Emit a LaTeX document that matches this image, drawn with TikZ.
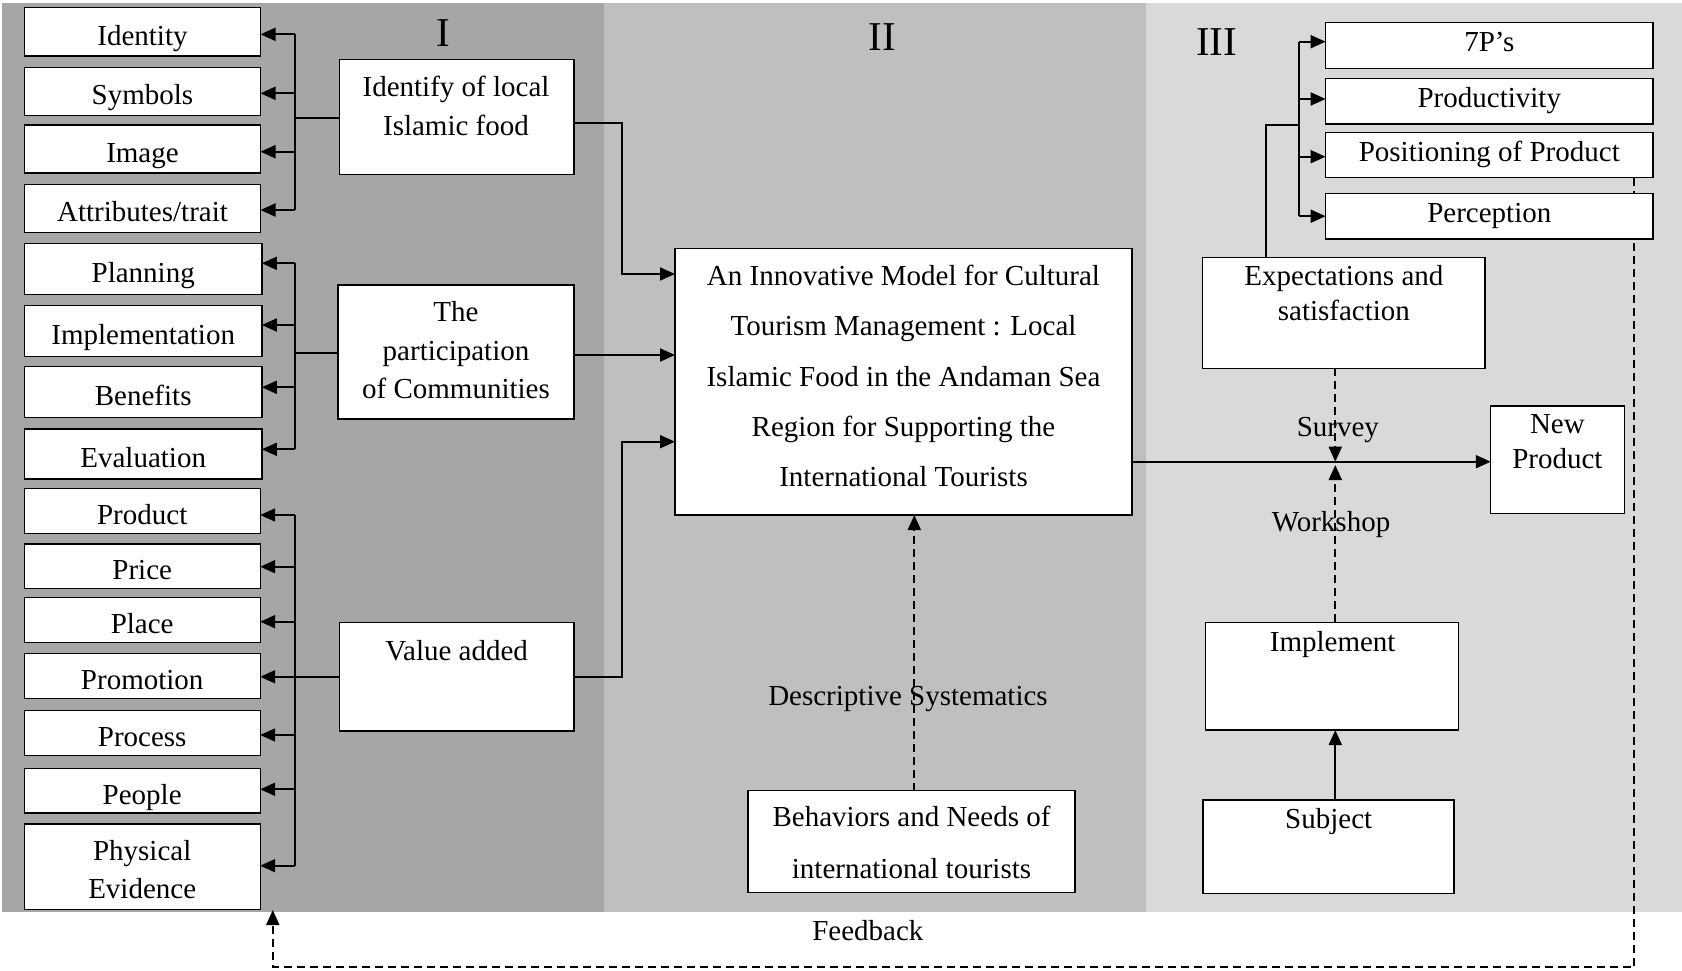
\documentclass[tikz,border=0pt]{standalone}
\usepackage{fontspec}
\setmainfont{Liberation Serif}
\usetikzlibrary{arrows.meta,calc}
\definecolor{panelA}{HTML}{A6A6A6}
\definecolor{panelB}{HTML}{BFBFBF}
\definecolor{panelC}{HTML}{D9D9D9}
\begin{document}
\begin{tikzpicture}[x=1pt,y=-1pt,
  every node/.append style={font={\fontsize{29}{35}\selectfont}},
  box/.style={draw=black, fill=white, line width=1.3pt, inner sep=0pt, outer sep=0pt, rectangle},
  lbox/.style={box, minimum width=236pt, text height=28.4pt, text depth=1.7pt},
  rbox/.style={box, minimum width=327.4pt, text height=20.3pt, text depth=7.8pt},
  txt/.style={inner sep=0pt, outer sep=0pt, align=center},
  conn/.style={line width=2pt},
  arr/.style={conn, -{Triangle[length=15pt,width=13pt]}},
  darr/.style={line width=2pt, dash pattern=on 8pt off 5pt, -{Triangle[length=15pt,width=13pt]}},
  panellab/.style={inner sep=0pt, font={\fontsize{41}{41}\selectfont}, anchor=base},
]
\fill[white] (0,0) rectangle (1682,970);
\useasboundingbox (0,0) rectangle (1682,970);
% panels
\fill[panelA] (2,3) rectangle (604,912);
\fill[panelB] (604,3) rectangle (1146,912);
\fill[panelC] (1146,3) rectangle (1682,912);
\node[panellab] (labI) at (442.9,46.7) {I};
\node[panellab] (labII) at (882,50) {II};
\node[panellab] (labIII) at (1216.7,55) {III};

% left column
\node[lbox, minimum height=48.7pt] (identity) at (142.5,31.7) {Identity};
\node[lbox, minimum height=48pt] (symbols) at (142.5,91.3) {Symbols};
\node[lbox, minimum height=48pt] (image) at (142.5,149) {Image};
\node[lbox, minimum height=48pt] (attributes) at (142.5,208.3) {Attributes/trait};
\node[lbox, minimum width=237.3pt, minimum height=51pt] (planning) at (143.2,268.8) {Planning};
\node[lbox, minimum width=237.3pt, minimum height=50.6pt] (implementation) at (143.2,331) {Implementation};
\node[lbox, minimum width=237.3pt, minimum height=50.6pt] (benefits) at (143.2,392) {Benefits};
\node[lbox, minimum width=237.3pt, minimum height=50pt] (evaluation) at (143.2,454) {Evaluation};
\node[lbox, minimum height=45pt] (product) at (142.2,510.8) {Product};
\node[lbox, minimum height=44.7pt] (price) at (142.2,566.3) {Price};
\node[lbox, minimum height=45pt] (place) at (142.2,620.2) {Place};
\node[lbox, minimum height=45pt] (promotion) at (142.2,675.8) {Promotion};
\node[lbox, minimum height=45pt] (process) at (142.2,733.2) {Process};
\node[lbox, minimum height=44.7pt] (people) at (142.2,790.7) {People};
\node[box, minimum width=236pt, minimum height=85.3pt] (physical) at (142.2,866.7) {};
\node[txt, font={\fontsize{29}{38.3}\selectfont}] (physicaltext) at (142.2,869.3) {Physical\\Evidence};

% middle boxes of panel I
\node[box, minimum width=234.8pt, minimum height=115pt] (identify) at (456.7,116.8) {};
\node[txt, font={\fontsize{29}{38.3}\selectfont}] (identifytext) at (456,106) {Identify of local\\Islamic food};
\node[box, minimum width=236pt, minimum height=134pt] (particip) at (456,352) {};
\node[txt, font={\fontsize{29}{38.3}\selectfont}] (participtext) at (456,350.1) {The\\participation\\of Communities};
\node[box, minimum width=234.7pt, minimum height=108.3pt] (valueadded) at (456.7,676.8) {};
\node[txt, anchor=base] (valuetext) at (456.7,660.7) {Value added};

% panel II
\node[box, minimum width=457pt, minimum height=266.5pt] (central) at (903.5,381.8) {};
\node[txt, font={\fontsize{29}{50.4}\selectfont}] (centraltext) at (903.5,376) {An Innovative Model for Cultural\\Tourism Management : Local\\Islamic Food in the Andaman Sea\\Region for Supporting the\\International Tourists};
\node[box, minimum width=327pt, minimum height=102pt] (behav) at (911.5,841.7) {};
\node[txt, font={\fontsize{29}{51.7}\selectfont}] (behavtext) at (911.5,842.6) {Behaviors and Needs of\\international tourists};
\node[txt, anchor=base] (desclab) at (908,705) {Descriptive Systematics};
\node[txt, anchor=base] (feedlab) at (867.9,940) {Feedback};

% panel III
\node[rbox, minimum height=45.6pt] (p7) at (1489.3,45.5) {7P’s};
\node[rbox, minimum height=45.3pt] (productivity) at (1489.3,101.3) {Productivity};
\node[rbox, minimum height=45pt] (positioning) at (1489.3,155.2) {Positioning of Product};

% feedback loop (drawn before Perception so that box hides it)
\coordinate (fb) at (1634.3,967);
\coordinate (fbtip) at (272.8,910);
\draw[darr] (fb |- positioning.south) -- (fb) -- (fb -| fbtip) -- (fbtip);

\node[rbox, minimum height=45.7pt] (perception) at (1489.3,216.2) {Perception};

\node[box, minimum width=282.8pt, minimum height=110.6pt] (expect) at (1343.6,313) {};
\node[txt] (expecttext) at (1343.9,292.6) {Expectations and\\satisfaction};
\node[box, minimum width=133.8pt, minimum height=107.3pt] (newprod) at (1557.7,459.7) {};
\node[txt] (newprodtext) at (1557.4,441.2) {New\\Product};
\node[box, minimum width=253pt, minimum height=107.7pt] (implement) at (1332.2,676.2) {};
\node[txt, anchor=base] (impltext) at (1332.7,651.7) {Implement};
\node[box, minimum width=251pt, minimum height=93.3pt] (subject) at (1328.4,846.7) {};
\node[txt, anchor=base] (subjtext) at (1328.7,828.3) {Subject};
\node[txt, anchor=base] (survey) at (1337.9,436) {Survey};
\node[txt, anchor=base] (workshop) at (1331,531.7) {Workshop};

% coordinates
\coordinate (t1) at (294.6,118.3);
\coordinate (t2) at (294.6,352.7);
\coordinate (t3) at (294.6,676.7);
\coordinate (j) at (622,274);
\coordinate (j2) at (622,441.7);
\coordinate (cx) at (1335.3,461.7);
\coordinate (cx2) at (1335.3,465);
\coordinate (t4) at (1299,125);
\coordinate (eb) at (1266.2,125);
\coordinate (dx) at (914.3,600);
\coordinate (ie) at ($(identify.east)+(0,5.7)$);
\coordinate (pe) at ($(particip.east)+(0,3)$);

% group 1
\draw[conn] (identify.west |- t1) -- (t1);
\draw[conn] ($(t1 |- identity.east)+(0,2.6)$) -- ($(t1 |- attributes.east)+(0,1.7)$);
\draw[arr] ($(t1 |- identity.east)+(0,2.6)$) -- ($(identity.east)+(0,2.6)$);
\draw[arr] ($(t1 |- symbols.east)+(0,2)$) -- ($(symbols.east)+(0,2)$);
\draw[arr] ($(t1 |- image.east)+(0,2.7)$) -- ($(image.east)+(0,2.7)$);
\draw[arr] ($(t1 |- attributes.east)+(0,1.7)$) -- ($(attributes.east)+(0,1.7)$);
% group 2
\draw[conn] (particip.west |- t2) -- (t2);
\draw[conn] ($(t2 |- planning.east)+(0,-5.5)$) -- ($(t2 |- evaluation.east)+(0,-4.7)$);
\draw[arr] ($(t2 |- planning.east)+(0,-5.5)$) -- ($(planning.east)+(0,-5.5)$);
\draw[arr] ($(t2 |- implementation.east)+(0,-6)$) -- ($(implementation.east)+(0,-6)$);
\draw[arr] ($(t2 |- benefits.east)+(0,-4.7)$) -- ($(benefits.east)+(0,-4.7)$);
\draw[arr] ($(t2 |- evaluation.east)+(0,-4.7)$) -- ($(evaluation.east)+(0,-4.7)$);
% group 3
\draw[conn] ($(t3 |- product.east)+(0,4.2)$) -- ($(t3 |- physical.east)+(0,-1)$);
\draw[arr] ($(t3 |- product.east)+(0,4.2)$) -- ($(product.east)+(0,4.2)$);
\draw[arr] ($(t3 |- price.east)+(0,0.4)$) -- ($(price.east)+(0,0.4)$);
\draw[arr] ($(t3 |- place.east)+(0,1.5)$) -- ($(place.east)+(0,1.5)$);
\draw[arr] (valueadded.west) -- (valueadded.west -| promotion.east);
\draw[arr] ($(t3 |- process.east)+(0,1.8)$) -- ($(process.east)+(0,1.8)$);
\draw[arr] ($(t3 |- people.east)+(0,-1.4)$) -- ($(people.east)+(0,-1.4)$);
\draw[arr] ($(t3 |- physical.east)+(0,-1)$) -- ($(physical.east)+(0,-1)$);

% to central box
\draw[arr] (ie) -| (j) -- (j -| central.west);
\draw[arr] (pe) -- (pe -| central.west);
\draw[arr] (valueadded.east) -| (j2) -- (j2 -| central.west);
\draw[darr] (dx |- behav.north) -- (dx |- central.south);

% panel III connectors
\draw[arr] (cx -| central.east) -- (cx -| newprod.west);
\draw[darr] (cx |- expect.south) -- (cx);
\draw[darr] (cx2 |- implement.north) -- (cx2);
\draw[arr] (cx |- subject.north) -- (cx |- implement.south);
\draw[conn] (eb |- expect.north) -- (eb) -- (t4);
\draw[conn] ($(t4 |- p7.west)+(0,-3.8)$) -- (t4 |- perception.west);
\draw[arr] ($(t4 |- p7.west)+(0,-3.8)$) -- ($(p7.west)+(0,-3.8)$);
\draw[arr] ($(t4 |- productivity.west)+(0,-2.3)$) -- ($(productivity.west)+(0,-2.3)$);
\draw[arr] ($(t4 |- positioning.west)+(0,1.5)$) -- ($(positioning.west)+(0,1.5)$);
\draw[arr] (t4 |- perception.west) -- (perception.west);
\end{tikzpicture}
\end{document}
